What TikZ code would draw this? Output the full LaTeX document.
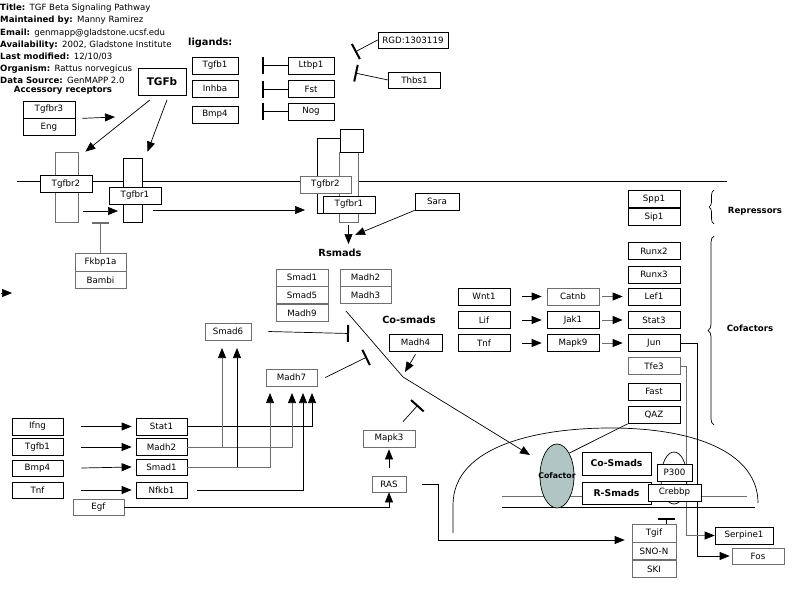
\documentclass[tikz,border=0pt]{standalone}
\usepackage{fontspec}
\setmainfont{DejaVu Sans}
\usetikzlibrary{positioning,arrows.meta,decorations.pathreplacing,shapes.geometric}
\definecolor{cofill}{HTML}{B2C5C5}
\definecolor{pale}{HTML}{6E6E6E}

\begin{document}
\begin{tikzpicture}[
    x=1pt, y=-1pt,
    font=\fontsize{8.7}{10}\selectfont,
    box/.style={rectangle, draw, fill=white, line width=0.7pt, minimum width=52pt, minimum height=17pt, inner sep=0pt},
    palebox/.style={box, draw=pale},
    bigbox/.style={box, font=\fontsize{9.3}{11}\selectfont\bfseries},
    rect/.style={rectangle, draw, fill=white, line width=0.7pt, inner sep=0pt},
    head/.style={inner sep=0pt, font=\fontsize{9.8}{11}\selectfont\bfseries},
    side/.style={inner sep=0pt, font=\fontsize{8.6}{10}\selectfont\bfseries},
    info/.style={anchor=west, inner sep=0pt, font=\fontsize{8.6}{10}\selectfont},
    wire/.style={line width=0.7pt},
    arrow/.style={-{Triangle[length=10pt,width=8pt]}, line width=0.7pt},
    palearrow/.style={-{Triangle[length=10pt,width=8pt,color=black]}, line width=0.7pt, draw=pale},
    block/.style={-{Bar[width=17pt,line width=2pt]}, line width=0.7pt}
]
\useasboundingbox (0,0) rectangle (800,589);

% header
\node[info] (title) at (0,8) {\textbf{Title:}\enspace TGF Beta Signaling Pathway};
\node[info] (maint) at (0,20) {\textbf{Maintained by:}\enspace Manny Ramirez};
\node[info] (email) at (0,33) {\textbf{Email:}\enspace genmapp@gladstone.ucsf.edu};
\node[info] (avail) at (0,45) {\textbf{Availability:}\enspace 2002, Gladstone Institute};
\node[info] (modif) at (0,57) {\textbf{Last modified:}\enspace 12/10/03};
\node[info] (organ) at (0,69) {\textbf{Organism:}\enspace Rattus norvegicus};
\node[info] (source) at (0,80) {\textbf{Data Source:}\enspace GenMAPP 2.0};
\node[side] (accessory) at (63,90) {Accessory receptors};

% ligands
\node[box] (tgfbr3) at (49,109.5) {Tgfbr3};
\node[box, below=0pt of tgfbr3] (eng) {Eng};
\node[box, font=\fontsize{10.5}{12}\selectfont\bfseries, minimum width=48pt, minimum height=27pt] (tgfb) at (162,82) {TGFb};

\node[head, anchor=west] (ligands) at (188,43) {ligands:};
\node[box, minimum width=46pt] (tgfb1) at (215,65.5) {Tgfb1};
\node[box, minimum width=46pt] (inhba) at (215,88.5) {Inhba};
\node[box, minimum width=46pt] (bmp4) at (215,114.5) {Bmp4};
\node[box, minimum width=46pt] (ltbp1) at (311,65.5) {Ltbp1};
\node[box, minimum width=46pt] (fst) at (311,89) {Fst};
\node[box, minimum width=46pt] (nog) at (311,111.5) {Nog};
\node[box, minimum width=70pt, minimum height=16pt] (rgd) at (413,40) {RGD:1303119};
\node[box, minimum height=16pt] (thbs1) at (414.5,80) {Thbs1};

% membrane and receptors
\draw[wire] (17,181) -- (727,181);
\node[rect, draw=pale, minimum width=23pt, minimum height=70pt] (r2left) at (66.5,187) {};
\node[box] (tgfbr2a) at (66,184) {Tgfbr2};
\node[rect, minimum width=19pt, minimum height=64pt] (r1left) at (132.5,190) {};
\node[box] (tgfbr1a) at (135,195.5) {Tgfbr1};

\node[rect, minimum width=23pt, minimum height=75pt] (r2right) at (328.5,175.5) {};
\node[rect, draw=pale, minimum width=19pt, minimum height=70pt] (r1right) at (348.5,187) {};
\node[rect, minimum width=23pt, minimum height=23pt] (r2cap) at (351.5,140.5) {};
\node[palebox, minimum width=51pt] (tgfbr2b) at (325.5,184.5) {Tgfbr2};
\node[box] (tgfbr1b) at (349,204.5) {Tgfbr1};

\node[palebox, minimum width=51pt, minimum height=18pt] (fkbp1a) at (100.5,262) {Fkbp1a};
\node[palebox, minimum width=51pt, below=0pt of fkbp1a] (bambi) {Bambi};
\node[box, minimum width=44pt] (sara) at (437,201.5) {Sara};

% smads
\node[head] (rsmads) at (340,253) {Rsmads};
\node[palebox] (smad1) at (302,277.5) {Smad1};
\node[palebox, below=0pt of smad1] (smad5) {Smad5};
\node[palebox, below=0pt of smad5] (madh9) {Madh9};
\node[palebox, minimum width=51pt] (madh2) at (365.5,277.5) {Madh2};
\node[palebox, minimum width=51pt, below=0pt of madh2] (madh3) {Madh3};
\node[head] (cosmads) at (409,320) {Co-smads};
\node[box, minimum width=53pt] (madh4) at (415.5,342.5) {Madh4};
\node[palebox, minimum width=46pt] (smad6) at (228,331.5) {Smad6};
\node[palebox, minimum width=51pt] (madh7) at (291.5,377.5) {Madh7};
\node[palebox] (mapk3) at (389,438.5) {Mapk3};
\node[palebox, minimum width=34pt, minimum height=16pt] (ras) at (389,484) {RAS};
\node[palebox, minimum width=51pt, minimum height=16pt] (egf) at (98.5,507) {Egf};

\node[box, minimum width=51pt] (ifng) at (37.5,426.5) {Ifng};
\node[box, minimum width=51pt] (tgfb1b) at (37.5,447) {Tgfb1};
\node[box, minimum width=51pt, minimum height=16pt] (bmp4b) at (37.5,468) {Bmp4};
\node[box, minimum width=51pt, minimum height=16pt] (tnfa) at (37.5,490) {Tnf};
\node[box, minimum width=51pt] (stat1) at (161.5,426.5) {Stat1};
\node[box, minimum width=51pt] (madh2b) at (161.5,447) {Madh2};
\node[box, minimum width=51pt, minimum height=16pt] (smad1b) at (161.5,467) {Smad1};
\node[box, minimum width=51pt, minimum height=16pt] (nfkb1) at (161.5,490) {Nfkb1};

% cofactors
\node[box] (wnt1) at (484,296.5) {Wnt1};
\node[box] (lif) at (484,320) {Lif};
\node[box] (tnfb) at (484,343) {Tnf};
\node[palebox] (catnb) at (573,296.5) {Catnb};
\node[box] (jak1) at (573,320) {Jak1};
\node[box] (mapk9) at (573,343) {Mapk9};

\node[box] (spp1) at (654,199) {Spp1};
\node[box, below=0pt of spp1] (sip1) {Sip1};
\node[box] (runx2) at (654,251) {Runx2};
\node[box] (runx3) at (654,274.5) {Runx3};
\node[box] (lef1) at (654,296.5) {Lef1};
\node[box] (stat3) at (654,320) {Stat3};
\node[box] (jun) at (654,343) {Jun};
\node[palebox] (tfe3) at (654,366) {Tfe3};
\node[box] (fast) at (654,391.5) {Fast};
\node[box] (qaz) at (654,415) {QAZ};

\draw[wire, decorate, decoration={brace, amplitude=5pt}] (714,224) -- (714,190);
\draw[wire, decorate, decoration={brace, amplitude=6pt}] (714,425) -- (714,236);
\node[side] (repress) at (755,211) {Repressors};
\node[side] (cofact) at (750,328) {Cofactors};

% targets
\node[box, minimum width=58pt] (serpine1) at (744,535.5) {Serpine1};
\node[palebox, minimum height=16pt] (fos) at (758,556) {Fos};
\draw[arrow] (jun.east) -- ++(17,0) |- ([xshift=-2pt]fos.west);
\draw[palearrow] (tfe3.east) -- ++(6,0) |- (serpine1.west);

% nucleus
\draw[wire] (453,533) -- (453,505) .. controls (453,445) and (540,428) .. (610,428)
    .. controls (700,428) and (758,455) .. (758,503);
\draw[wire, draw=pale] (502,496) -- (747,496);
\draw[wire] (502,507) -- (755,507);
\node[draw, ellipse, line width=0.7pt, minimum width=26pt, minimum height=52pt] (loop) at (674,478) {};
\node[draw, ellipse, fill=cofill, line width=0.7pt, minimum width=34pt, minimum height=64pt, inner sep=0pt] (cofactor) at (557,476) {};
\node[font=\fontsize{7.8}{9}\selectfont\bfseries, inner sep=0pt] (cofactortext) at (cofactor.center) {Cofactor};
\node[bigbox, minimum width=69pt, minimum height=23pt] (cosmadsbox) at (616.5,463.5) {Co-Smads};
\node[bigbox, minimum width=69pt, minimum height=22pt] (rsmadsbox) at (616.5,493) {R-Smads};
\node[box, minimum width=35pt] (p300) at (674.5,472.5) {P300};
\node[box, minimum width=53pt] (crebbp) at (674.5,492.5) {Crebbp};

\node[palebox, minimum width=44pt, minimum height=18pt] (tgif) at (654,533) {Tgif};
\node[palebox, minimum width=44pt, below=0pt of tgif] (snon) {SNO-N};
\node[palebox, minimum width=44pt, below=0pt of snon] (ski) {SKI};

% free ends
\coordinate (accend) at (115,117);
\coordinate (ligbar) at (262,0);
\coordinate (rgdbar) at (355,52);
\coordinate (thbsbar) at (355,73);
\coordinate (kinA) at (83,211);
\coordinate (kinB) at (118,211);
\coordinate (kinC) at (153,210);
\coordinate (kinD) at (305,210);
\coordinate (saraend) at (355,235);
\coordinate (s6bar) at (349,333.5);
\coordinate (m7bar) at (367,357);
\coordinate (mkbar) at (418,405);
\coordinate (smadstart) at (346,311);
\coordinate (smadbend) at (403,377);
\coordinate (m4tip) at (405,372);
\coordinate (m7a) at (312,393);
\coordinate (m7b) at (303,393);
\coordinate (m7c) at (292,393);
\coordinate (m7d) at (270,393);
\coordinate (s6a) at (222,348);
\coordinate (s6b) at (237,348);
\coordinate (strayA) at (1,293);
\coordinate (strayB) at (12,293);

% connectors
\draw[arrow] ([xshift=7pt]eng.north east) -- (accend);
\draw[arrow] ([shift={(-12,4)}]tgfb.south) -- ([xshift=7pt]r2left.north east);
\draw[arrow] ([shift={(5,4)}]tgfb.south) -- ([shift={(15,-6)}]r1left.north);
\draw[block] (ltbp1.west) -- (ltbp1.west -| ligbar);
\draw[block] (fst.west) -- (fst.west -| ligbar);
\draw[block] (nog.west) -- (nog.west -| ligbar);
\draw[block] (rgd.west) -- (rgdbar);
\draw[block] (thbs1.west) -- (thbsbar);

\draw[arrow] (kinA) -- (kinB);
\draw[arrow] (kinC) -- (kinD);
\draw[block, draw=pale] (fkbp1a.north) -- (fkbp1a.north |- r2left.south);
\draw[arrow] ([yshift=-3pt]r1right.south) -- ([yshift=5pt]r1right.south |- rsmads.north);
\draw[arrow] (sara.south west) -- (saraend);

\draw[block] ([xshift=17pt]smad6.east) -- (s6bar);
\draw[block] ([xshift=8pt]madh7.east) -- (m7bar);
\draw[block] ([shift={(14,-8)}]mapk3.north) -- (mkbar);
\draw[arrow] ([yshift=8pt]ras.north) -- ([yshift=-2pt]mapk3.south);
\draw[arrow] (egf.east) -| (ras.south);
\draw[arrow] ([xshift=16pt]ras.east) -- ++(16,0) |- ([shift={(-7,7)}]tgif.west);
\draw[arrow] ([yshift=-3pt]madh4.south) -- (m4tip);
\draw[arrow] (smadstart) -- (smadbend) -- ([shift={(-27,-21)}]cofactor.center);

\draw[arrow] ([xshift=18pt]ifng.east) -- ([xshift=-4pt]stat1.west);
\draw[arrow] ([xshift=18pt]tgfb1b.east) -- ([xshift=-4pt]madh2b.west);
\draw[arrow] ([xshift=18pt]bmp4b.east) -- ([xshift=-4pt]smad1b.west);
\draw[arrow] ([xshift=18pt]tnfa.east) -- ([xshift=-4pt]nfkb1.west);
\draw[arrow] (stat1.east) -| (m7a);
\draw[palearrow] (madh2b.east) -| (m7c);
\draw[palearrow] (madh2b.east -| s6a) -- (s6a);
\draw[palearrow] (smad1b.east) -| (m7d);
\draw[arrow] (smad1b.east -| s6b) -- (s6b);
\draw[arrow] ([xshift=10pt]nfkb1.east) -| (m7b);

\draw[arrow] ([xshift=12pt]wnt1.east) -- ([xshift=-5pt]catnb.west);
\draw[arrow] ([xshift=12pt]lif.east) -- ([xshift=-5pt]jak1.west);
\draw[arrow] ([xshift=12pt]tnfb.east) -- ([xshift=-5pt]mapk9.west);
\draw[palearrow] ([xshift=3pt]catnb.east) -- ([xshift=-5pt]lef1.west);
\draw[palearrow] ([xshift=3pt]jak1.east) -- ([xshift=-5pt]stat3.west);
\draw[palearrow] ([xshift=3pt]mapk9.east) -- ([xshift=-5pt]jun.west);

\draw[wire] (qaz.south west) -- (cofactor.north east);
\draw[block] ([xshift=12pt]tgif.north) -- ++(0,-6);
\draw[arrow] (strayA) -- (strayB);

\end{tikzpicture}
\end{document}
